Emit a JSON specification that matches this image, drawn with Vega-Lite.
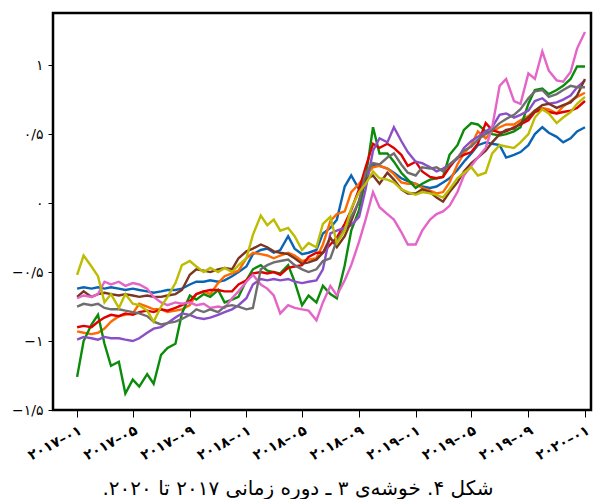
{
  "$schema": "https://vega.github.io/schema/vega-lite/v6.json",
  "width": 538,
  "height": 397,
  "autosize": {"type": "none"},
  "padding": {"left": 53, "top": 13, "right": 8, "bottom": 89},
  "background": "white",
  "config": {
    "view": {"stroke": "black", "strokeWidth": 2.5},
    "locale": {
      "number": {
        "decimal": "/",
        "thousands": ",",
        "grouping": [3],
        "currency": ["", ""],
        "numerals": ["۰", "۱", "۲", "۳", "۴", "۵", "۶", "۷", "۸", "۹"],
        "minus": "−"
      }
    }
  },
  "title": {
    "text": "شکل ۴. خوشه‌ی ۳ ـ دوره زمانی ۲۰۱۷ تا ۲۰۲۰.\u200f",
    "orient": "bottom",
    "anchor": "middle",
    "frame": "group",
    "dx": -24,
    "offset": 16,
    "font": "DejaVu Sans",
    "fontSize": 20,
    "fontWeight": "normal",
    "color": "black"
  },
  "data": {
    "values": [
      {"d": "2017-01-01", "s1": -0.62, "s2": -0.93, "s3": -1.26, "s4": -0.90, "s5": -0.99, "s6": -0.68, "s7": -0.69, "s8": -0.75, "s9": -0.52},
      {"d": "2017-01-15", "s1": -0.61, "s2": -0.94, "s3": -1.00, "s4": -0.89, "s5": -0.97, "s6": -0.64, "s7": -0.67, "s8": -0.73, "s9": -0.38},
      {"d": "2017-02-01", "s1": -0.62, "s2": -0.95, "s3": -0.88, "s4": -0.90, "s5": -0.98, "s6": -0.68, "s7": -0.68, "s8": -0.74, "s9": -0.46},
      {"d": "2017-02-15", "s1": -0.61, "s2": -0.94, "s3": -0.81, "s4": -0.86, "s5": -0.99, "s6": -0.66, "s7": -0.66, "s8": -0.73, "s9": -0.53},
      {"d": "2017-03-01", "s1": -0.62, "s2": -0.91, "s3": -1.02, "s4": -0.83, "s5": -0.97, "s6": -0.65, "s7": -0.57, "s8": -0.76, "s9": -0.72},
      {"d": "2017-03-15", "s1": -0.61, "s2": -0.86, "s3": -1.18, "s4": -0.81, "s5": -0.98, "s6": -0.66, "s7": -0.59, "s8": -0.77, "s9": -0.66},
      {"d": "2017-04-01", "s1": -0.62, "s2": -0.82, "s3": -1.15, "s4": -0.82, "s5": -0.98, "s6": -0.67, "s7": -0.57, "s8": -0.77, "s9": -0.76},
      {"d": "2017-04-15", "s1": -0.63, "s2": -0.81, "s3": -1.38, "s4": -0.80, "s5": -0.99, "s6": -0.66, "s7": -0.60, "s8": -0.78, "s9": -0.66},
      {"d": "2017-05-01", "s1": -0.62, "s2": -0.80, "s3": -1.28, "s4": -0.81, "s5": -1.00, "s6": -0.67, "s7": -0.58, "s8": -0.79, "s9": -0.73},
      {"d": "2017-05-15", "s1": -0.63, "s2": -0.73, "s3": -1.33, "s4": -0.79, "s5": -0.98, "s6": -0.68, "s7": -0.59, "s8": -0.80, "s9": -0.74},
      {"d": "2017-06-01", "s1": -0.64, "s2": -0.75, "s3": -1.24, "s4": -0.78, "s5": -0.94, "s6": -0.67, "s7": -0.62, "s8": -0.82, "s9": -0.78},
      {"d": "2017-06-15", "s1": -0.65, "s2": -0.77, "s3": -1.31, "s4": -0.79, "s5": -0.91, "s6": -0.68, "s7": -0.68, "s8": -0.86, "s9": -0.86},
      {"d": "2017-07-01", "s1": -0.64, "s2": -0.77, "s3": -1.10, "s4": -0.77, "s5": -0.90, "s6": -0.68, "s7": -0.72, "s8": -0.88, "s9": -0.75},
      {"d": "2017-07-15", "s1": -0.63, "s2": -0.79, "s3": -1.05, "s4": -0.78, "s5": -0.87, "s6": -0.67, "s7": -0.74, "s8": -0.87, "s9": -0.68},
      {"d": "2017-08-01", "s1": -0.63, "s2": -0.78, "s3": -1.02, "s4": -0.76, "s5": -0.83, "s6": -0.66, "s7": -0.72, "s8": -0.86, "s9": -0.58},
      {"d": "2017-08-15", "s1": -0.62, "s2": -0.77, "s3": -0.80, "s4": -0.74, "s5": -0.80, "s6": -0.63, "s7": -0.73, "s8": -0.84, "s9": -0.45},
      {"d": "2017-09-01", "s1": -0.59, "s2": -0.74, "s3": -0.67, "s4": -0.71, "s5": -0.81, "s6": -0.52, "s7": -0.72, "s8": -0.81, "s9": -0.42},
      {"d": "2017-09-15", "s1": -0.57, "s2": -0.66, "s3": -0.70, "s4": -0.66, "s5": -0.83, "s6": -0.48, "s7": -0.74, "s8": -0.77, "s9": -0.46},
      {"d": "2017-10-01", "s1": -0.57, "s2": -0.64, "s3": -0.66, "s4": -0.64, "s5": -0.84, "s6": -0.49, "s7": -0.73, "s8": -0.79, "s9": -0.50},
      {"d": "2017-10-15", "s1": -0.56, "s2": -0.66, "s3": -0.68, "s4": -0.63, "s5": -0.83, "s6": -0.50, "s7": -0.76, "s8": -0.77, "s9": -0.47},
      {"d": "2017-11-01", "s1": -0.57, "s2": -0.58, "s3": -0.63, "s4": -0.63, "s5": -0.81, "s6": -0.48, "s7": -0.75, "s8": -0.79, "s9": -0.50},
      {"d": "2017-11-15", "s1": -0.56, "s2": -0.53, "s3": -0.72, "s4": -0.64, "s5": -0.79, "s6": -0.47, "s7": -0.76, "s8": -0.75, "s9": -0.47},
      {"d": "2017-12-01", "s1": -0.53, "s2": -0.51, "s3": -0.70, "s4": -0.64, "s5": -0.77, "s6": -0.48, "s7": -0.69, "s8": -0.74, "s9": -0.50},
      {"d": "2017-12-15", "s1": -0.50, "s2": -0.49, "s3": -0.68, "s4": -0.59, "s5": -0.74, "s6": -0.40, "s7": -0.64, "s8": -0.75, "s9": -0.45},
      {"d": "2018-01-01", "s1": -0.46, "s2": -0.40, "s3": -0.56, "s4": -0.56, "s5": -0.69, "s6": -0.35, "s7": -0.57, "s8": -0.77, "s9": -0.40},
      {"d": "2018-01-15", "s1": -0.37, "s2": -0.36, "s3": -0.48, "s4": -0.51, "s5": -0.59, "s6": -0.33, "s7": -0.52, "s8": -0.76, "s9": -0.23},
      {"d": "2018-02-01", "s1": -0.34, "s2": -0.37, "s3": -0.45, "s4": -0.50, "s5": -0.55, "s6": -0.30, "s7": -0.59, "s8": -0.48, "s9": -0.09},
      {"d": "2018-02-15", "s1": -0.33, "s2": -0.38, "s3": -0.49, "s4": -0.51, "s5": -0.56, "s6": -0.32, "s7": -0.62, "s8": -0.45, "s9": -0.16},
      {"d": "2018-03-01", "s1": -0.36, "s2": -0.40, "s3": -0.50, "s4": -0.50, "s5": -0.55, "s6": -0.35, "s7": -0.67, "s8": -0.43, "s9": -0.12},
      {"d": "2018-03-15", "s1": -0.34, "s2": -0.38, "s3": -0.51, "s4": -0.52, "s5": -0.56, "s6": -0.36, "s7": -0.80, "s8": -0.42, "s9": -0.20},
      {"d": "2018-04-01", "s1": -0.24, "s2": -0.36, "s3": -0.45, "s4": -0.47, "s5": -0.55, "s6": -0.37, "s7": -0.74, "s8": -0.41, "s9": -0.18},
      {"d": "2018-04-15", "s1": -0.33, "s2": -0.38, "s3": -0.57, "s4": -0.46, "s5": -0.57, "s6": -0.40, "s7": -0.76, "s8": -0.45, "s9": -0.24},
      {"d": "2018-05-01", "s1": -0.37, "s2": -0.42, "s3": -0.74, "s4": -0.45, "s5": -0.58, "s6": -0.44, "s7": -0.77, "s8": -0.48, "s9": -0.34},
      {"d": "2018-05-15", "s1": -0.36, "s2": -0.41, "s3": -0.67, "s4": -0.39, "s5": -0.57, "s6": -0.43, "s7": -0.78, "s8": -0.50, "s9": -0.29},
      {"d": "2018-06-01", "s1": -0.34, "s2": -0.40, "s3": -0.72, "s4": -0.36, "s5": -0.56, "s6": -0.41, "s7": -0.85, "s8": -0.48, "s9": -0.32},
      {"d": "2018-06-15", "s1": -0.22, "s2": -0.30, "s3": -0.60, "s4": -0.36, "s5": -0.48, "s6": -0.36, "s7": -0.72, "s8": -0.42, "s9": -0.15},
      {"d": "2018-07-01", "s1": -0.18, "s2": -0.13, "s3": -0.66, "s4": -0.30, "s5": -0.22, "s6": -0.25, "s7": -0.60, "s8": -0.40, "s9": -0.10},
      {"d": "2018-07-15", "s1": -0.12, "s2": -0.08, "s3": -0.69, "s4": -0.25, "s5": -0.20, "s6": -0.32, "s7": -0.67, "s8": -0.27, "s9": -0.29},
      {"d": "2018-08-01", "s1": 0.12, "s2": -0.06, "s3": -0.45, "s4": -0.15, "s5": -0.18, "s6": -0.24, "s7": -0.56, "s8": -0.19, "s9": -0.20},
      {"d": "2018-08-15", "s1": 0.20, "s2": 0.08, "s3": -0.20, "s4": -0.05, "s5": -0.16, "s6": -0.13, "s7": -0.45, "s8": -0.10, "s9": -0.04},
      {"d": "2018-09-01", "s1": 0.10, "s2": 0.14, "s3": -0.05, "s4": 0.10, "s5": -0.10, "s6": 0.02, "s7": -0.28, "s8": 0.01, "s9": 0.08},
      {"d": "2018-09-15", "s1": 0.20, "s2": 0.20, "s3": 0.18, "s4": 0.26, "s5": 0.10, "s6": 0.17, "s7": -0.12, "s8": 0.22, "s9": 0.14},
      {"d": "2018-10-01", "s1": 0.28, "s2": 0.26, "s3": 0.55, "s4": 0.43, "s5": 0.38, "s6": 0.20, "s7": 0.08, "s8": 0.29, "s9": 0.23},
      {"d": "2018-10-15", "s1": 0.27, "s2": 0.27, "s3": 0.36, "s4": 0.40, "s5": 0.47, "s6": 0.14, "s7": -0.03, "s8": 0.28, "s9": 0.18},
      {"d": "2018-11-01", "s1": 0.25, "s2": 0.25, "s3": 0.36, "s4": 0.43, "s5": 0.44, "s6": 0.22, "s7": -0.08, "s8": 0.33, "s9": 0.17},
      {"d": "2018-11-15", "s1": 0.22, "s2": 0.21, "s3": 0.30, "s4": 0.40, "s5": 0.55, "s6": 0.17, "s7": -0.12, "s8": 0.36, "s9": 0.15},
      {"d": "2018-12-01", "s1": 0.18, "s2": 0.15, "s3": 0.22, "s4": 0.35, "s5": 0.45, "s6": 0.10, "s7": -0.21, "s8": 0.28, "s9": 0.10},
      {"d": "2018-12-15", "s1": 0.16, "s2": 0.14, "s3": 0.17, "s4": 0.27, "s5": 0.37, "s6": 0.07, "s7": -0.30, "s8": 0.22, "s9": 0.08},
      {"d": "2019-01-01", "s1": 0.14, "s2": 0.14, "s3": 0.11, "s4": 0.30, "s5": 0.30, "s6": 0.07, "s7": -0.30, "s8": 0.20, "s9": 0.06},
      {"d": "2019-01-15", "s1": 0.12, "s2": 0.11, "s3": 0.14, "s4": 0.23, "s5": 0.29, "s6": 0.10, "s7": -0.20, "s8": 0.26, "s9": 0.08},
      {"d": "2019-02-01", "s1": 0.11, "s2": 0.09, "s3": 0.17, "s4": 0.19, "s5": 0.26, "s6": 0.08, "s7": -0.12, "s8": 0.25, "s9": 0.07},
      {"d": "2019-02-15", "s1": 0.12, "s2": 0.07, "s3": 0.18, "s4": 0.18, "s5": 0.23, "s6": 0.04, "s7": -0.08, "s8": 0.26, "s9": 0.06},
      {"d": "2019-03-01", "s1": 0.15, "s2": 0.08, "s3": 0.19, "s4": 0.19, "s5": 0.25, "s6": 0.01, "s7": -0.06, "s8": 0.23, "s9": 0.04},
      {"d": "2019-03-15", "s1": 0.18, "s2": 0.15, "s3": 0.35, "s4": 0.26, "s5": 0.28, "s6": 0.08, "s7": -0.02, "s8": 0.28, "s9": 0.10},
      {"d": "2019-04-01", "s1": 0.24, "s2": 0.28, "s3": 0.42, "s4": 0.33, "s5": 0.32, "s6": 0.15, "s7": 0.08, "s8": 0.33, "s9": 0.18},
      {"d": "2019-04-15", "s1": 0.30, "s2": 0.36, "s3": 0.53, "s4": 0.35, "s5": 0.40, "s6": 0.23, "s7": 0.20, "s8": 0.38, "s9": 0.22},
      {"d": "2019-05-01", "s1": 0.36, "s2": 0.42, "s3": 0.58, "s4": 0.37, "s5": 0.45, "s6": 0.29, "s7": 0.27, "s8": 0.41, "s9": 0.26},
      {"d": "2019-05-15", "s1": 0.42, "s2": 0.52, "s3": 0.57, "s4": 0.43, "s5": 0.48, "s6": 0.33, "s7": 0.33, "s8": 0.46, "s9": 0.20},
      {"d": "2019-06-01", "s1": 0.44, "s2": 0.47, "s3": 0.52, "s4": 0.58, "s5": 0.52, "s6": 0.38, "s7": 0.40, "s8": 0.50, "s9": 0.22},
      {"d": "2019-06-15", "s1": 0.43, "s2": 0.52, "s3": 0.50, "s4": 0.53, "s5": 0.55, "s6": 0.44, "s7": 0.55, "s8": 0.53, "s9": 0.36},
      {"d": "2019-07-01", "s1": 0.42, "s2": 0.55, "s3": 0.49, "s4": 0.51, "s5": 0.64, "s6": 0.50, "s7": 0.85, "s8": 0.58, "s9": 0.42},
      {"d": "2019-07-15", "s1": 0.33, "s2": 0.57, "s3": 0.50, "s4": 0.52, "s5": 0.65, "s6": 0.53, "s7": 0.90, "s8": 0.61, "s9": 0.41},
      {"d": "2019-08-01", "s1": 0.35, "s2": 0.57, "s3": 0.52, "s4": 0.55, "s5": 0.62, "s6": 0.54, "s7": 0.74, "s8": 0.64, "s9": 0.40},
      {"d": "2019-08-15", "s1": 0.37, "s2": 0.60, "s3": 0.55, "s4": 0.57, "s5": 0.64, "s6": 0.58, "s7": 0.72, "s8": 0.68, "s9": 0.44},
      {"d": "2019-09-01", "s1": 0.42, "s2": 0.63, "s3": 0.72, "s4": 0.60, "s5": 0.67, "s6": 0.62, "s7": 0.94, "s8": 0.76, "s9": 0.50},
      {"d": "2019-09-15", "s1": 0.50, "s2": 0.67, "s3": 0.82, "s4": 0.66, "s5": 0.74, "s6": 0.67, "s7": 0.90, "s8": 0.81, "s9": 0.62},
      {"d": "2019-10-01", "s1": 0.55, "s2": 0.69, "s3": 0.83, "s4": 0.68, "s5": 0.76, "s6": 0.71, "s7": 1.10, "s8": 0.82, "s9": 0.68},
      {"d": "2019-10-15", "s1": 0.51, "s2": 0.68, "s3": 0.79, "s4": 0.66, "s5": 0.72, "s6": 0.72, "s7": 0.96, "s8": 0.77, "s9": 0.65},
      {"d": "2019-11-01", "s1": 0.48, "s2": 0.65, "s3": 0.82, "s4": 0.65, "s5": 0.73, "s6": 0.69, "s7": 0.89, "s8": 0.79, "s9": 0.58},
      {"d": "2019-11-15", "s1": 0.44, "s2": 0.70, "s3": 0.85, "s4": 0.66, "s5": 0.75, "s6": 0.71, "s7": 0.88, "s8": 0.82, "s9": 0.62},
      {"d": "2019-12-01", "s1": 0.47, "s2": 0.74, "s3": 0.90, "s4": 0.67, "s5": 0.78, "s6": 0.73, "s7": 0.95, "s8": 0.85, "s9": 0.66},
      {"d": "2019-12-15", "s1": 0.52, "s2": 0.77, "s3": 0.99, "s4": 0.69, "s5": 0.84, "s6": 0.78, "s7": 1.12, "s8": 0.84, "s9": 0.72},
      {"d": "2020-01-01", "s1": 0.55, "s2": 0.80, "s3": 0.99, "s4": 0.74, "s5": 0.89, "s6": 0.90, "s7": 1.24, "s8": 0.84, "s9": 0.77}
    ]
  },
  "transform": [
    {"fold": ["s1", "s2", "s3", "s4", "s5", "s6", "s7", "s8", "s9"], "as": ["k", "v"]}
  ],
  "mark": {"type": "line", "strokeWidth": 2.4, "clip": true},
  "encoding": {
    "x": {
      "field": "d",
      "type": "temporal",
      "scale": {"domain": ["2016-11-10", "2020-01-14"]},
      "axis": {
        "values": [
          {"year": 2017, "month": 1, "date": 1, "utc": true},
          {"year": 2017, "month": 5, "date": 1, "utc": true},
          {"year": 2017, "month": 9, "date": 1, "utc": true},
          {"year": 2018, "month": 1, "date": 1, "utc": true},
          {"year": 2018, "month": 5, "date": 1, "utc": true},
          {"year": 2018, "month": 9, "date": 1, "utc": true},
          {"year": 2019, "month": 1, "date": 1, "utc": true},
          {"year": 2019, "month": 5, "date": 1, "utc": true},
          {"year": 2019, "month": 9, "date": 1, "utc": true},
          {"year": 2020, "month": 1, "date": 1, "utc": true}
        ],
        "labelExpr": "format(utcyear(datum.value), 'd') + '–' + format(utcmonth(datum.value) + 1, '02d')",
        "labelAngle": -28,
        "labelAlign": "right",
        "labelBaseline": "top",
        "labelFont": "DejaVu Sans",
        "labelFontSize": 14,
        "labelFontWeight": "bold",
        "labelColor": "black",
        "labelPadding": 6,
        "labelOverlap": false,
        "labelFlush": false,
        "labelBound": false,
        "tickColor": "black",
        "tickSize": 7,
        "tickWidth": 1,
        "domain": false,
        "grid": false,
        "title": null
      }
    },
    "y": {
      "field": "v",
      "type": "quantitative",
      "scale": {"domain": [-1.5, 1.378], "nice": false, "zero": false},
      "axis": {
        "values": [-1.5, -1, -0.5, 0, 0.5, 1],
        "format": "~g",
        "labelFont": "DejaVu Sans",
        "labelFontSize": 14,
        "labelColor": "black",
        "labelPadding": 5,
        "tickColor": "black",
        "tickSize": 5,
        "tickWidth": 1,
        "domain": false,
        "grid": false,
        "title": null
      }
    },
    "color": {
      "field": "k",
      "type": "nominal",
      "scale": {
        "domain": ["s1", "s2", "s3", "s4", "s5", "s6", "s7", "s8", "s9"],
        "range": ["#0a64b4", "#ff6a00", "#0a8c0a", "#e00000", "#8a4fc8", "#7b3522", "#e464c8", "#6e6e6e", "#bcbc00"]
      },
      "legend": null
    }
  }
}
